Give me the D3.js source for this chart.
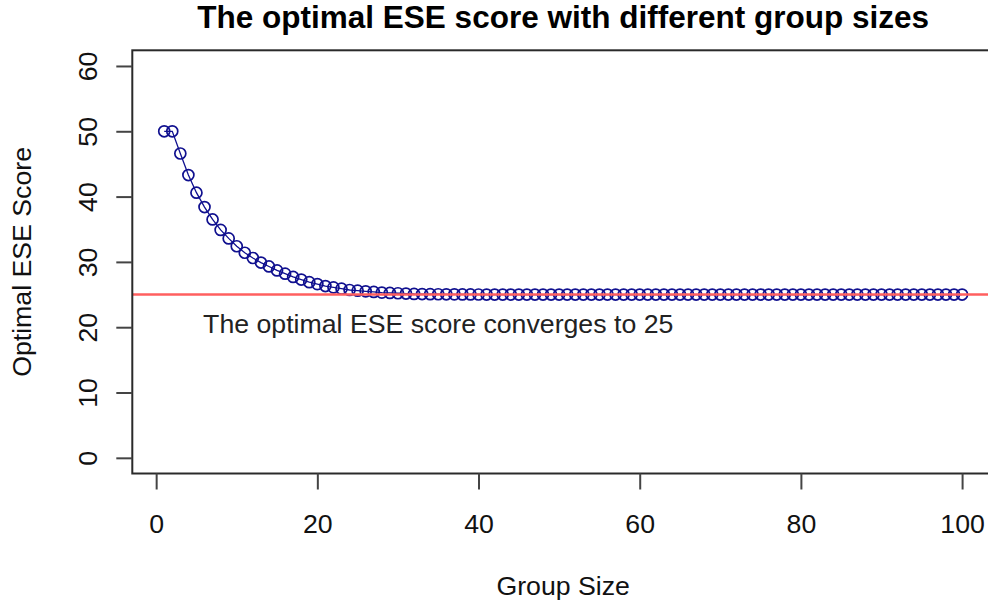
<!DOCTYPE html>
<html>
<head>
<meta charset="utf-8">
<script src="https://cdn.jsdelivr.net/npm/d3@7"></script>
<style>
  html, body { margin: 0; padding: 0; background: #fff; }
  svg { display: block; font-family: "Liberation Sans", Arial, Helvetica, sans-serif; }
</style>
</head>
<body>
<svg id="chart" width="988" height="605"></svg>
<script>
// ---- data ----
const titleText = "The optimal ESE score with different group sizes";
const xLabel = "Group Size";
const yLabel = "Optimal ESE Score";
const noteText = "The optimal ESE score converges to 25";
const groupSizes = d3.range(1, 101);
const eseScores = [
  50, 50, 46.6, 43.3, 40.6, 38.4, 36.5, 34.9, 33.6, 32.4,
  31.4, 30.6, 29.9, 29.3, 28.7, 28.2, 27.7, 27.3, 26.9, 26.6,
  26.3, 26.1, 25.9, 25.7, 25.6, 25.5, 25.4, 25.3, 25.25, 25.2,
  25.15, 25.1, 25.08, 25.06, 25.05, 25.04, 25.03, 25.02, 25.02, 25.01,
  25, 25, 25, 25, 25, 25, 25, 25, 25, 25,
  25, 25, 25, 25, 25, 25, 25, 25, 25, 25,
  25, 25, 25, 25, 25, 25, 25, 25, 25, 25,
  25, 25, 25, 25, 25, 25, 25, 25, 25, 25,
  25, 25, 25, 25, 25, 25, 25, 25, 25, 25,
  25, 25, 25, 25, 25, 25, 25, 25, 25, 25
];
const xTicks = [0, 20, 40, 60, 80, 100];
const yTicks = [0, 10, 20, 30, 40, 50, 60];
const refLine = 25;
const notePos = [35, 20];

// ---- layout ----
const svg = d3.select("#chart");
const pL = 132.3, pR = 994, pT = 50.3, pB = 473.5;
const x = d3.scaleLinear().domain([-2.96, 103.96]).range([pL, pR]);
const y = d3.scaleLinear().domain([-2.4, 62.4]).range([pB, pT]);
const fs = 26.7;

svg.append("defs").append("clipPath").attr("id", "plotclip")
  .append("rect").attr("x", pL).attr("y", pT)
  .attr("width", pR - pL).attr("height", pB - pT);

// line + points
const pts = groupSizes.map((g, i) => [g, eseScores[i]]);
const plot = svg.append("g").attr("clip-path", "url(#plotclip)");
plot.append("path")
  .datum(pts)
  .attr("fill", "none")
  .attr("stroke", "#10108f")
  .attr("stroke-width", 1.3)
  .attr("d", d3.line().x(d => x(d[0])).y(d => y(d[1])));
plot.selectAll("circle.pt").data(pts).enter().append("circle")
  .attr("class", "pt")
  .attr("cx", d => x(d[0])).attr("cy", d => y(d[1]))
  .attr("r", 5.5)
  .attr("fill", "none")
  .attr("stroke", "#10108f")
  .attr("stroke-width", 1.7);

// reference line
plot.append("line")
  .attr("x1", pL).attr("x2", pR)
  .attr("y1", y(refLine)).attr("y2", y(refLine))
  .attr("stroke", "#ff5f5f").attr("stroke-width", 2.5);

// box
svg.append("rect")
  .attr("x", pL).attr("y", pT)
  .attr("width", pR - pL).attr("height", pB - pT)
  .attr("fill", "none").attr("stroke", "#2a2a2a").attr("stroke-width", 2);

// x axis
const xa = svg.append("g").attr("transform", `translate(0,${pB})`)
  .call(d3.axisBottom(x).tickValues(xTicks).tickSize(16).tickFormat(d3.format("d")));
xa.select(".domain").remove();
xa.selectAll(".tick line").attr("stroke", "#444").attr("stroke-width", 2);
xa.selectAll(".tick text")
  .attr("y", 59.5).attr("dy", null)
  .attr("fill", "#111").style("font-size", fs + "px")
  .style("font-family", "'Liberation Sans', Arial, sans-serif");

// y axis
const ya = svg.append("g").attr("transform", `translate(${pL},0)`)
  .call(d3.axisLeft(y).tickValues(yTicks).tickSize(16).tickFormat(d3.format("d")));
ya.select(".domain").remove();
ya.selectAll(".tick line").attr("stroke", "#444").attr("stroke-width", 2);
ya.selectAll(".tick text")
  .attr("x", 0).attr("y", -35.5).attr("dy", null)
  .attr("text-anchor", "middle")
  .attr("transform", "rotate(-90)")
  .attr("fill", "#111").style("font-size", fs + "px")
  .style("font-family", "'Liberation Sans', Arial, sans-serif");

// title
svg.append("text")
  .attr("x", (pL + pR) / 2).attr("y", 28)
  .attr("text-anchor", "middle")
  .style("font-size", "31.5px").style("font-weight", "bold")
  .attr("fill", "#000")
  .text(titleText);

// axis titles
svg.append("text")
  .attr("x", (pL + pR) / 2).attr("y", 595)
  .attr("text-anchor", "middle")
  .style("font-size", fs + "px").attr("fill", "#111")
  .text(xLabel);
svg.append("text")
  .attr("transform", `translate(30.5,${(pT + pB) / 2}) rotate(-90)`)
  .attr("text-anchor", "middle")
  .style("font-size", fs + "px").attr("fill", "#111")
  .text(yLabel);

// note
svg.append("text")
  .attr("x", x(notePos[0])).attr("y", y(notePos[1]))
  .attr("dy", "0.22em")
  .attr("text-anchor", "middle")
  .style("font-size", fs + "px").attr("fill", "#222")
  .text(noteText);
</script>
</body>
</html>
